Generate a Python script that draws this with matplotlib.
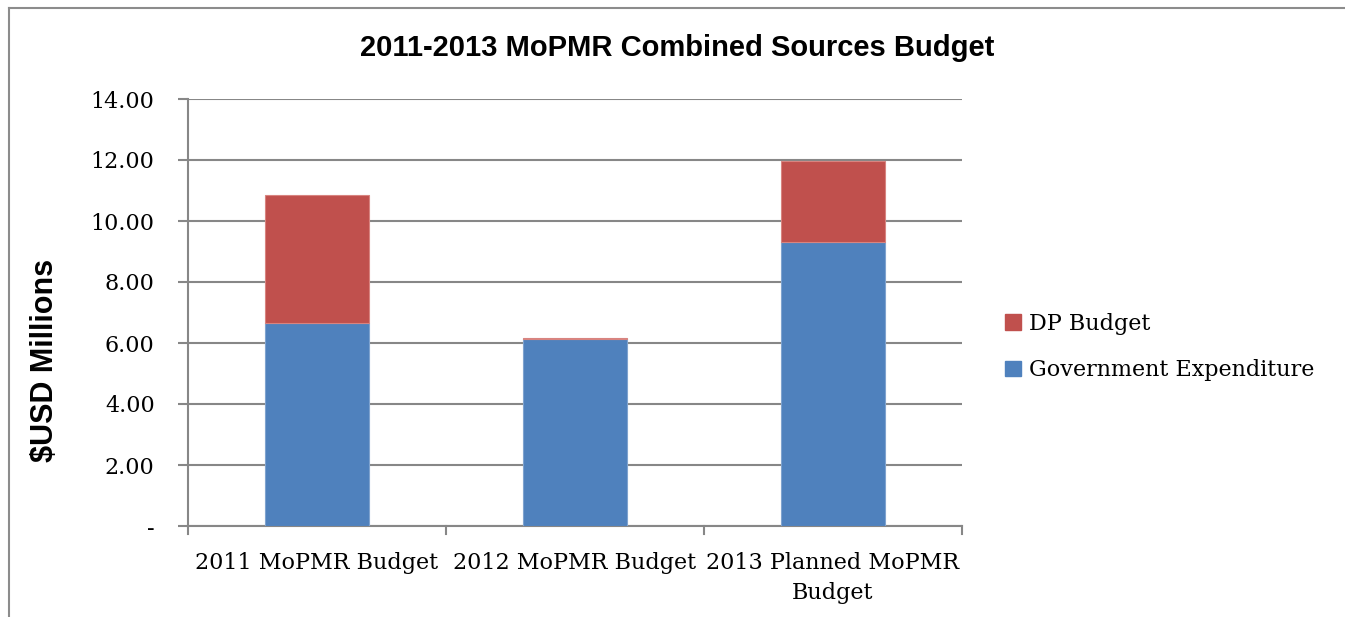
import matplotlib
matplotlib.use("Agg")
import matplotlib.pyplot as plt
from matplotlib.lines import Line2D
from matplotlib.patches import Patch

categories = ["2011 MoPMR Budget", "2012 MoPMR Budget", "2013 Planned MoPMR\nBudget"]
gov_expenditure = [6.65, 6.12, 9.30]
dp_budget = [4.20, 0.04, 2.67]
y_ticks = [0, 2, 4, 6, 8, 10, 12, 14]
y_tick_labels = ["-", "2.00", "4.00", "6.00", "8.00", "10.00", "12.00", "14.00"]

blue = "#4F81BD"
red = "#C0504D"
grid_c = "#878787"
serif = ["DejaVu Serif"]

fig = plt.figure(figsize=(13.45, 6.17), dpi=100)
ax = fig.add_axes([188/1345, 1-526/617, (962-188)/1345, (526-99)/617])

x = list(range(len(categories)))
ax.bar(x, gov_expenditure, width=0.4, color=blue, edgecolor="#7FA3CF", linewidth=0.8, zorder=3)
ax.bar(x, dp_budget, bottom=gov_expenditure, width=0.4, color=red, edgecolor="#D88480", linewidth=0.8, zorder=3)

ax.set_xlim(-0.5, len(categories) - 0.5)
ax.set_ylim(0, 14)
ax.set_yticks(y_ticks)
ax.set_yticklabels(y_tick_labels, family=serif, fontsize=16)
ax.yaxis.grid(True, color=grid_c, linewidth=1.5, zorder=0)
ax.tick_params(axis="y", length=7, width=1.5, color=grid_c, pad=17)

ax.set_xticks(x)
ax.set_xticklabels(categories, family=serif, fontsize=16, linespacing=1.45)
ax.tick_params(axis="x", length=0, pad=19)
for b in [-0.5, 0.5, 1.5, 2.5]:
    ax.plot([b, b], [0, -0.27], color=grid_c, linewidth=1.5, clip_on=False, zorder=4)

for s in ["top", "right"]:
    ax.spines[s].set_visible(False)
for s in ["left", "bottom"]:
    ax.spines[s].set_color(grid_c)
    ax.spines[s].set_linewidth(1.5)

fig.text(677/1345, 1-48/617, "2011-2013 MoPMR Combined Sources Budget",
         family="Liberation Sans", fontweight="bold", fontsize=21, ha="center", va="center")
fig.text(45/1345, 1-360/617, "$USD Millions", family="Liberation Sans", fontweight="bold",
         fontsize=22, rotation=90, ha="center", va="center")

handles = [Patch(facecolor=red, edgecolor=red), Patch(facecolor=blue, edgecolor=blue)]
leg = fig.legend(handles, ["DP Budget", "Government Expenditure"], loc="center left",
                 bbox_to_anchor=(985/1345, 1-347/617), frameon=False,
                 prop={"family": serif, "size": 16}, handlelength=0.7, handleheight=0.7,
                 handletextpad=0.4, labelspacing=1.1)

fig.add_artist(Line2D([9/1345, 9/1345], [0, 1-8/617], color="#8C8C8C", linewidth=1.5, transform=fig.transFigure))
fig.add_artist(Line2D([9/1345, 1], [1-8/617, 1-8/617], color="#8C8C8C", linewidth=1.5, transform=fig.transFigure))

fig.savefig("out.png", dpi=100, facecolor="white")
